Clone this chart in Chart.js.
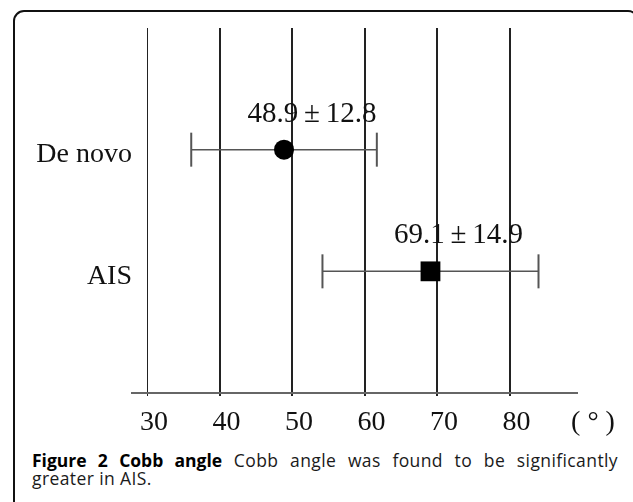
<!DOCTYPE html>
<html>
<head>
<meta charset="utf-8">
<script src="https://cdn.jsdelivr.net/npm/chart.js@4"></script>
<style>
  html, body { margin: 0; padding: 0; background: #fff; }
  #wrap { position: relative; width: 633px; height: 502px; overflow: hidden; }
  #frame { position: absolute; left: 13px; top: 10px; width: 626px; height: 520px;
    border: 2px solid #111; border-radius: 11px; box-sizing: border-box; }
  #chart { position: absolute; left: 0; top: 0; }
  .cap { position: absolute; left: 32px; width: 586px; font-family: "Open Sans", sans-serif;
    font-size: 17.5px; line-height: 18px; color: #1a1a1a; white-space: nowrap; letter-spacing: 0.4px; }
  #cap1 { top: 451px; text-align: justify; text-align-last: justify; white-space: normal; }
  #cap2 { top: 469px; }
  .cap b { color: #000; letter-spacing: 0; }
</style>
</head>
<body>
<div id="wrap">
  <div id="frame"></div>
  <canvas id="chart" width="633" height="440"></canvas>
  <div class="cap" id="cap1"><b>Figure 2 Cobb angle</b> Cobb angle was found to be significantly</div>
  <div class="cap" id="cap2">greater in AIS.</div>
</div>
<script>
const categories = ['De novo', 'AIS'];
const means = [48.9, 69.1];
const sds = [12.8, 14.9];
const pointStyles = ['circle', 'rect'];
const pointSizes = [10, 14];
const tickValues = [30, 40, 50, 60, 70, 80];
const unitLabel = '( ° )';

const serif = '"Liberation Serif", "Times New Roman", serif';

// error bars + value labels, drawn from the data through the scales
const errorBars = {
  id: 'errorBars',
  beforeDatasetsDraw(chart) {
    const { ctx, scales: { x, y } } = chart;
    ctx.save();
    ctx.strokeStyle = '#555';
    means.forEach((m, i) => {
      const py = y.getPixelForValue(i + 1);
      const x0 = x.getPixelForValue(m - sds[i]);
      const x1 = x.getPixelForValue(m + sds[i]);
      ctx.lineWidth = 1.5;
      ctx.beginPath();
      ctx.moveTo(x0, py); ctx.lineTo(x1, py);
      ctx.stroke();
      ctx.lineWidth = 2;
      [x0, x1].forEach(cx => {
        ctx.beginPath();
        ctx.moveTo(cx, py - 17); ctx.lineTo(cx, py + 17);
        ctx.stroke();
      });
    });
    ctx.restore();
  },
  afterDatasetsDraw(chart) {
    const { ctx, chartArea, scales: { x, y } } = chart;
    ctx.save();
    ctx.fillStyle = '#111';
    ctx.font = '29px ' + serif;
    ctx.textAlign = 'center';
    ctx.textBaseline = 'alphabetic';
    means.forEach((m, i) => {
      const px = x.getPixelForValue(m);
      const py = y.getPixelForValue(i + 1);
      ctx.fillText(m.toFixed(1) + '\u2009±\u2009' + sds[i].toFixed(1), px + 28, py - 28);
    });
    // unit after the last tick label
    ctx.font = '28px ' + serif;
    ctx.textBaseline = 'middle';
    ctx.fillText(unitLabel, chartArea.right + 16, chartArea.bottom + 30);
    ctx.restore();
  }
};

new Chart(document.getElementById('chart'), {
  type: 'scatter',
  data: {
    datasets: [{
      data: means.map((m, i) => ({ x: m, y: i + 1 })),
      pointStyle: pointStyles,
      pointRadius: pointSizes,
      backgroundColor: '#000',
      borderColor: '#000',
      borderWidth: 0
    }]
  },
  options: {
    responsive: false,
    animation: false,
    layout: { padding: { top: 28, right: 56, left: 0, bottom: 0 } },
    plugins: { legend: { display: false }, tooltip: { enabled: false } },
    scales: {
      x: {
        type: 'linear',
        min: 27.93,
        max: 89.31,
        afterBuildTicks: s => { s.ticks = tickValues.map(v => ({ value: v })); },
        afterFit: s => { s.height = 47; },
        grid: {
          color: '#222',
          lineWidth: c => c.index === 0 ? 1 : 2,
          tickLength: 3,
          drawTicks: true
        },
        border: { display: true, color: '#666', width: 2 },
        ticks: {
          color: '#111',
          font: { family: serif, size: 28 },
          padding: 10,
          labelOffset: 7,
          maxRotation: 0
        }
      },
      y: {
        type: 'linear',
        reverse: true,
        min: 0,
        max: 3,
        afterBuildTicks: s => { s.ticks = categories.map((c, i) => ({ value: i + 1 })); },
        afterFit: s => { s.width = 132; },
        grid: { display: false, drawTicks: false },
        border: { display: false },
        ticks: {
          color: '#111',
          font: { family: serif, size: 28 },
          padding: 0,
          labelOffset: 5,
          callback: v => categories[v - 1]
        }
      }
    }
  },
  plugins: [errorBars]
});
</script>
</body>
</html>
